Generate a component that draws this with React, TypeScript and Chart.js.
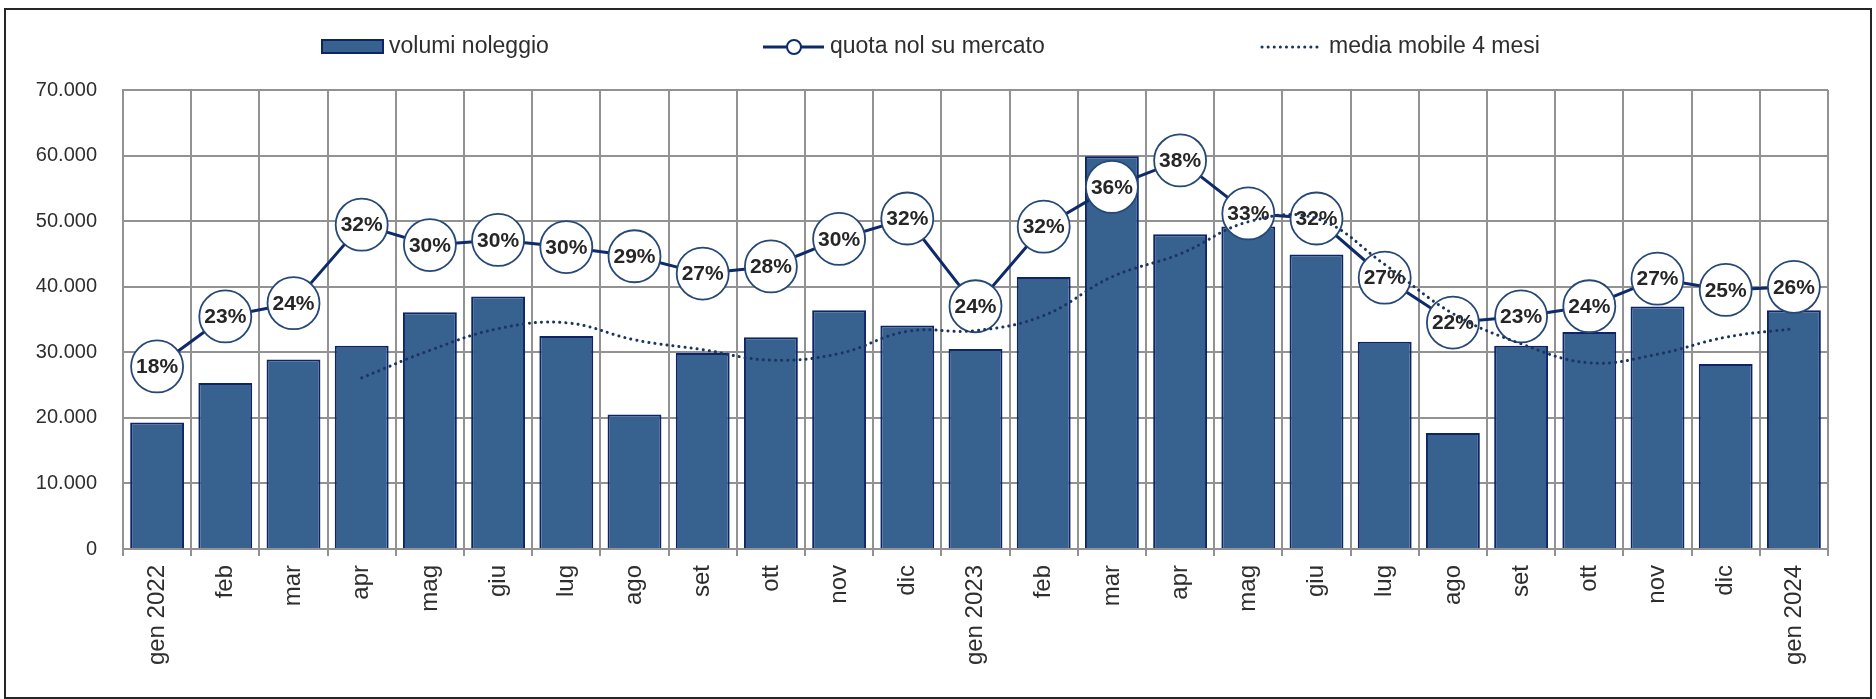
import React, { useEffect, useRef } from "react";
import { Chart, registerables } from "chart.js";

Chart.register(...registerables);

const categories = [
  "gen 2022", "feb", "mar", "apr", "mag", "giu", "lug", "ago", "set", "ott", "nov", "dic",
  "gen 2023", "feb", "mar", "apr", "mag", "giu", "lug", "ago", "set", "ott", "nov", "dic",
  "gen 2024",
];

const volumi = [
  19300, 25300, 28900, 31000, 36100, 38500, 32500, 20500, 29900, 32300, 36400, 34100,
  30500, 41500, 59900, 48000, 49200, 44900, 31600, 17700, 31000, 33100, 37000, 28200,
  36400,
];

const quota = [
  17.9, 22.8, 24.1, 31.8, 29.8, 30.3, 29.6, 28.7, 27.0, 27.7, 30.4, 32.4,
  23.8, 31.6, 35.5, 38.1, 32.9, 32.4, 26.6, 22.2, 22.8, 23.8, 26.5, 25.4,
  25.7,
];

const quotaLabels = [
  "18%", "23%", "24%", "32%", "30%", "30%", "30%", "29%", "27%", "28%", "30%", "32%",
  "24%", "32%", "36%", "38%", "33%", "32%", "27%", "22%", "23%", "24%", "27%", "25%",
  "26%",
];

const media = [
  null, null, null, 26100, 30300, 33600, 34500, 31900, 30400, 28800, 29800, 33200,
  33300, 35600, 41500, 45000, 49900, 50400, 43400, 35900, 31300, 28400, 29700, 32300,
  33600,
];

const yTicksMax = 70000;
const yStep = 10000;

const FONT = '"Liberation Sans", Arial, Helvetica, sans-serif';
const BAR_FILL = "#37618f";
const BAR_BORDER = "#0e2466";
const LINE_COLOR = "#0d2a6b";
const CIRCLE_BORDER = "#264877";
const DOT_COLOR = "#1b3460";
const GRID = "#929292";
const TEXT = "#2e2e2e";

function fmtThousands(v: number): string {
  return String(Math.round(v)).replace(/\B(?=(\d{3})+(?!\d))/g, ".");
}

const quotaLabelPlugin = {
  id: "quotaLabels",
  afterDatasetDraw(chart: any, args: any) {
    if (args.index !== 1) return;
    const ctx = chart.ctx;
    ctx.save();
    ctx.font = `bold 21px ${FONT}`;
    ctx.fillStyle = "#262626";
    ctx.textAlign = "center";
    ctx.textBaseline = "middle";
    args.meta.data.forEach((pt: any, i: number) => {
      ctx.fillText(quotaLabels[i], pt.x, pt.y + 1);
    });
    ctx.restore();
  },
};

const legendPlugin = {
  id: "customLegend",
  afterDraw(chart: any) {
    const ctx = chart.ctx;
    const ds = chart.data.datasets;
    const cy = 47;
    ctx.save();
    ctx.font = `23px ${FONT}`;
    ctx.fillStyle = TEXT;
    ctx.textBaseline = "middle";
    ctx.textAlign = "left";

    // item 1: bar
    ctx.fillStyle = BAR_FILL;
    ctx.fillRect(322, 40, 61, 13);
    ctx.strokeStyle = BAR_BORDER;
    ctx.lineWidth = 2;
    ctx.strokeRect(322, 40, 61, 13);
    ctx.fillStyle = TEXT;
    ctx.fillText(ds[0].label, 389, cy);

    // item 2: line with circle
    ctx.strokeStyle = LINE_COLOR;
    ctx.lineWidth = 3;
    ctx.beginPath();
    ctx.moveTo(763, cy);
    ctx.lineTo(824, cy);
    ctx.stroke();
    ctx.beginPath();
    ctx.arc(794, cy, 7, 0, Math.PI * 2);
    ctx.fillStyle = "#ffffff";
    ctx.fill();
    ctx.lineWidth = 2;
    ctx.strokeStyle = LINE_COLOR;
    ctx.stroke();
    ctx.fillStyle = TEXT;
    ctx.fillText(ds[1].label, 830, cy);

    // item 3: dotted
    ctx.strokeStyle = DOT_COLOR;
    ctx.lineWidth = 3;
    ctx.lineCap = "round";
    ctx.setLineDash([0.1, 6]);
    ctx.beginPath();
    ctx.moveTo(1262, cy);
    ctx.lineTo(1319, cy);
    ctx.stroke();
    ctx.setLineDash([]);
    ctx.fillStyle = TEXT;
    ctx.fillText(ds[2].label, 1329, cy);
    ctx.restore();
  },
};

export default function App() {
  const ref = useRef<HTMLCanvasElement | null>(null);

  useEffect(() => {
    if (!ref.current) return;
    const chart = new Chart(ref.current, {
      type: "bar",
      data: {
        labels: categories,
        datasets: [
          {
            type: "bar",
            label: "volumi noleggio",
            data: volumi,
            backgroundColor: BAR_FILL,
            borderColor: BAR_BORDER,
            borderWidth: 2,
            barPercentage: 0.79,
            categoryPercentage: 1,
            yAxisID: "y",
            order: 3,
          },
          {
            type: "line",
            label: "quota nol su mercato",
            data: quota,
            yAxisID: "y1",
            borderColor: LINE_COLOR,
            borderWidth: 3,
            pointRadius: 26,
            pointHoverRadius: 26,
            pointBackgroundColor: "#ffffff",
            pointBorderColor: CIRCLE_BORDER,
            pointBorderWidth: 1.8,
            tension: 0,
            order: 2,
            clip: false,
          } as any,
          {
            type: "line",
            label: "media mobile 4 mesi",
            data: media,
            yAxisID: "y",
            borderColor: DOT_COLOR,
            borderWidth: 3,
            borderDash: [0.1, 6],
            borderCapStyle: "round",
            pointRadius: 0,
            tension: 0.4,
            order: 1,
          } as any,
        ],
      },
      options: {
        animation: false,
        responsive: true,
        maintainAspectRatio: false,
        layout: { padding: { top: 90, right: 48, left: 0, bottom: 0 } },
        plugins: {
          legend: { display: false },
          tooltip: { enabled: false },
        },
        scales: {
          x: {
            ticks: {
              minRotation: 90,
              maxRotation: 90,
              autoSkip: false,
              font: { size: 24, family: FONT },
              color: TEXT,
              padding: 9,
            },
            grid: { color: GRID, lineWidth: 2, tickLength: 7, offset: true },
            border: { color: GRID, width: 2 },
            afterFit: (s: any) => {
              s.height = 150;
            },
          },
          y: {
            min: 0,
            max: yTicksMax,
            ticks: {
              stepSize: yStep,
              callback: (v: any) => fmtThousands(Number(v)),
              font: { size: 20, family: FONT },
              color: TEXT,
              padding: 26,
            },
            grid: { color: GRID, lineWidth: 2, drawTicks: false },
            border: { color: GRID, width: 2 },
            afterFit: (s: any) => {
              s.width = 123;
            },
          },
          y1: {
            display: false,
            min: 0,
            max: 45,
          },
        },
      } as any,
      plugins: [quotaLabelPlugin, legendPlugin],
    });
    return () => chart.destroy();
  }, []);

  return (
    <div
      style={{
        position: "absolute",
        left: 0,
        top: 0,
        width: 1876,
        height: 699,
        background: "#ffffff",
      }}
    >
      <canvas ref={ref} />
      <div
        style={{
          position: "absolute",
          left: 4,
          top: 8,
          width: 1868,
          height: 691,
          border: "2px solid #262626",
          boxSizing: "border-box",
          pointerEvents: "none",
        }}
      />
    </div>
  );
}
